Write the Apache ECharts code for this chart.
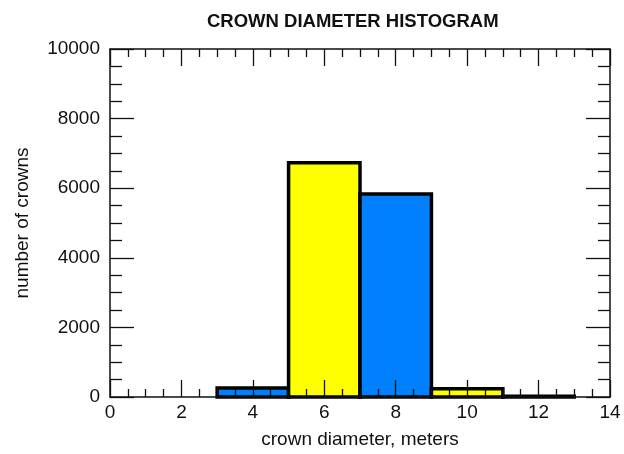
<!DOCTYPE html>
<html>
<head>
<meta charset="utf-8">
<script src="https://cdn.jsdelivr.net/npm/echarts@6/dist/echarts.min.js"></script>
<style>html,body{margin:0;padding:0;background:#fff;}#c{width:624px;height:454px;}</style>
</head>
<body>
<div id="c"></div>
<script>
const binStart = [3, 5, 7, 9, 11];
const binEnd = [5, 7, 9, 11, 13];
const counts = [260, 6730, 5830, 240, 20];
const xTicks = [0, 2, 4, 6, 8, 10, 12, 14];
const yTicks = [0, 2000, 4000, 6000, 8000, 10000];
const titleText = 'CROWN DIAMETER HISTOGRAM';
const xName = 'crown diameter, meters';
const yName = 'number of crowns';

const barColors = ['#0080ff', '#ffff00'];
const FONT = '"Liberation Sans", Arial, Helvetica, sans-serif';

const data = binStart.map((s, i) => [s, binEnd[i], counts[i]]);

const axisCommon = {
  axisLine: { show: true, onZero: false, lineStyle: { color: '#111', width: 1.5 } },
  splitLine: { show: false },
  z: 10
};

function xAx(pos, showLabel) {
  return Object.assign({}, axisCommon, {
    type: 'value', position: pos,
    min: xTicks[0], max: xTicks[xTicks.length - 1], interval: 2,
    axisTick: { show: true, inside: true, length: 17, lineStyle: { color: '#111', width: 1.3 } },
    minorTick: { show: true, splitNumber: 4, length: 8, lineStyle: { color: '#111', width: 1.3 } },
    axisLabel: { show: showLabel, color: '#111', fontSize: 19, fontFamily: FONT, margin: 6,
                 formatter: v => String(v) },
    name: showLabel ? xName : '', nameLocation: 'middle', nameGap: 33,
    nameTextStyle: { color: '#111', fontSize: 19, fontFamily: FONT }
  });
}
function yAx(pos, showLabel) {
  return Object.assign({}, axisCommon, {
    type: 'value', position: pos,
    min: yTicks[0], max: yTicks[yTicks.length - 1], interval: 2000,
    axisTick: { show: true, inside: true, length: 24, lineStyle: { color: '#111', width: 1.3 } },
    minorTick: { show: true, splitNumber: 4, length: 12, lineStyle: { color: '#111', width: 1.3 } },
    axisLabel: { show: showLabel, color: '#111', fontSize: 19, fontFamily: FONT, margin: 10,
                 formatter: v => String(v) },
    name: showLabel ? yName : '', nameLocation: 'middle', nameGap: 78,
    nameTextStyle: { color: '#111', fontSize: 19, fontFamily: FONT }
  });
}

const chart = echarts.init(document.getElementById('c'), null, { renderer: 'canvas' });
chart.setOption({
  animation: false,
  backgroundColor: '#fff',
  title: {
    text: titleText, left: 202, top: 7,
    textStyle: { color: '#111', fontSize: 18.5, fontWeight: 'bold', fontFamily: FONT }
  },
  grid: { left: 110, right: 14, top: 49, bottom: 57, containLabel: false, outerBoundsMode: 'none' },
  xAxis: [xAx('bottom', true), xAx('top', false)],
  yAxis: [yAx('left', true), yAx('right', false)],
  series: [{
    type: 'custom',
    xAxisIndex: 0, yAxisIndex: 0,
    z: 2,
    data: data,
    renderItem: function (params, api) {
      const p0 = api.coord([api.value(0), api.value(2)]);
      const p1 = api.coord([api.value(1), 0]);
      return {
        type: 'rect',
        shape: { x: p0[0], y: p0[1], width: p1[0] - p0[0], height: p1[1] - p0[1] },
        style: { fill: barColors[params.dataIndex % 2], stroke: '#000', lineWidth: 3.5 }
      };
    }
  }]
});
</script>
</body>
</html>
